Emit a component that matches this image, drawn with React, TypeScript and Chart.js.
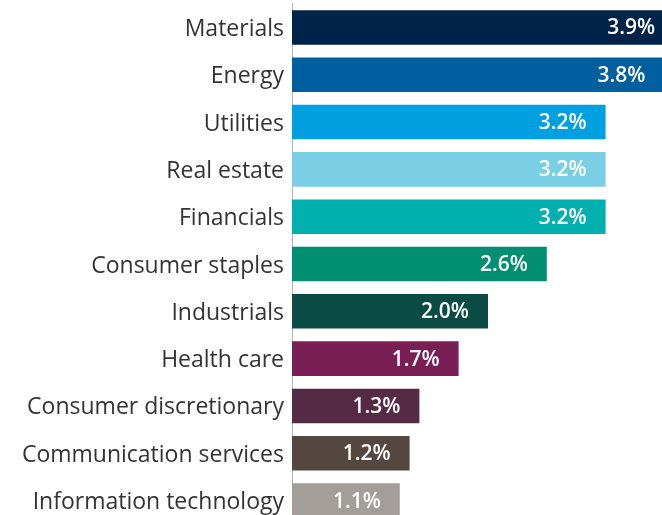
import React, { useEffect, useRef } from "react";
import { Chart, registerables } from "chart.js";

Chart.register(...registerables);

const categories = [
  "Materials",
  "Energy",
  "Utilities",
  "Real estate",
  "Financials",
  "Consumer staples",
  "Industrials",
  "Health care",
  "Consumer discretionary",
  "Communication services",
  "Information technology",
];
const values = [3.9, 3.8, 3.2, 3.2, 3.2, 2.6, 2.0, 1.7, 1.3, 1.2, 1.1];
const barColors = [
  "#00234A",
  "#005F9E",
  "#009FDF",
  "#7ACFE5",
  "#00B0AE",
  "#008F72",
  "#0A4C45",
  "#7A1F56",
  "#552A45",
  "#544740",
  "#A39E99",
];

const valueLabelPlugin = {
  id: "valueLabels",
  afterDatasetsDraw(chart: any) {
    const { ctx } = chart;
    const meta = chart.getDatasetMeta(0);
    ctx.save();
    ctx.font = "600 21px 'Open Sans'";
    ctx.fillStyle = "#ffffff";
    ctx.textAlign = "right";
    ctx.textBaseline = "middle";
    meta.data.forEach((bar: any, i: number) => {
      ctx.fillText(values[i].toFixed(1) + "%", bar.x - 19, bar.y + 1);
    });
    ctx.restore();
  },
};

export default function App() {
  const ref = useRef<HTMLCanvasElement>(null);
  useEffect(() => {
    if (!ref.current) return;
    const chart = new Chart(ref.current, {
      type: "bar",
      data: {
        labels: categories,
        datasets: [
          {
            data: values,
            backgroundColor: barColors,
            barPercentage: 0.73,
            categoryPercentage: 1,
          },
        ],
      },
      options: {
        indexAxis: "y",
        responsive: false,
        animation: false,
        layout: { padding: { top: 4, bottom: 7, right: 16, left: 0 } },
        plugins: { legend: { display: false }, tooltip: { enabled: false } },
        scales: {
          x: { display: false, min: 0, max: 4 },
          y: {
            afterFit(scale: any) {
              scale.width = 292;
            },
            grid: { display: false, drawTicks: false },
            border: { display: true, color: "#b5b5b5", width: 1 },
            ticks: {
              color: "#333333",
              font: { family: "'Open Sans'", size: 23 },
              padding: 8,
              labelOffset: 2,
            },
          },
        },
      },
      plugins: [valueLabelPlugin],
    });
    return () => chart.destroy();
  }, []);
  return (
    <div
      style={{
        position: "fixed",
        left: 0,
        top: 0,
        width: 662,
        height: 515,
        overflow: "hidden",
        background: "#fff",
      }}
    >
      <canvas
        ref={ref}
        width={700}
        height={564}
        style={{ display: "block", marginTop: -18 }}
      />
    </div>
  );
}
